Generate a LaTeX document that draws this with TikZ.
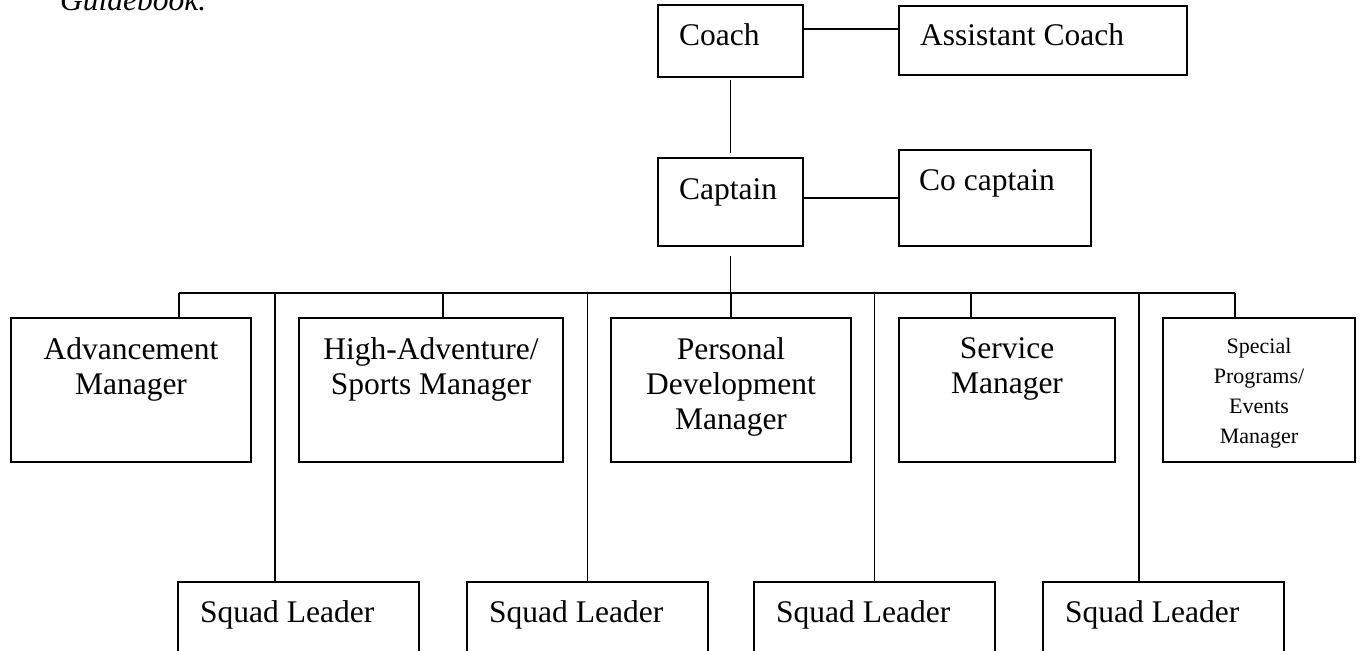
\documentclass[tikz,border=0pt]{standalone}
\usepackage{fontspec}
\setmainfont{Liberation Serif}
\usepackage{tikz}

\tikzset{
  box/.style={draw, line width=1.8pt, anchor=north west, inner sep=0pt, outer sep=0pt},
  lbl/.style={inner sep=0pt, anchor=base west},
  mgr/.style={inner sep=0pt, anchor=north, align=center},
  link/.style={line width=1.4pt},
}

\begin{document}
\begin{tikzpicture}[x=1pt,y=-1pt,every node/.style={font=\fontsize{31.5}{35}\selectfont}]
\clip (0,0) rectangle (1361,651);
\node[lbl, font=\fontsize{31.5}{35}\selectfont\itshape] (guide) at (60,10) {Guidebook.};
% top boxes
\node[box, minimum width=145, minimum height=72] (coach) at (658,5) {};
\node[box, minimum width=288, minimum height=69] (asst) at (899,6) {};
\node[box, minimum width=145, minimum height=88] (capt) at (658,158) {};
\node[box, minimum width=192, minimum height=96] (cocap) at (899,150) {};
\node[lbl] (coachT) at ([xshift=21pt,yshift=-40pt]coach.north west) {Coach};
\node[lbl] (asstT) at ([xshift=21pt,yshift=-39pt]asst.north west) {Assistant Coach};
\node[lbl] (captT) at ([xshift=21pt,yshift=-41pt]capt.north west) {Captain};
\node[lbl] (cocapT) at ([xshift=20pt,yshift=-40pt]cocap.north west) {Co captain};
% managers
\node[box, minimum width=240, minimum height=144] (adv) at (11,318) {};
\node[box, minimum width=264, minimum height=144] (high) at (299,318) {};
\node[box, minimum width=240, minimum height=144] (pers) at (611,318) {};
\node[box, minimum width=216, minimum height=144] (serv) at (899,318) {};
\node[box, minimum width=192, minimum height=144] (spec) at (1163,318) {};
\node[mgr] (advT) at ([yshift=-19pt]adv.north) {Advancement\\Manager};
\node[mgr] (highT) at ([yshift=-19pt]high.north) {High-Adventure/\\Sports Manager};
\node[mgr] (persT) at ([yshift=-19pt]pers.north) {Personal\\Development\\Manager};
\node[mgr] (servT) at ([yshift=-19pt]serv.north) {Service\\Manager};
\node[mgr, font=\fontsize{22}{30}\selectfont] (specT) at ([yshift=-20pt]spec.north) {Special\\Programs/\\Events\\Manager};
% squad leaders
\node[box, minimum width=241, minimum height=100] (sq1) at (178,582) {};
\node[box, minimum width=241, minimum height=100] (sq2) at (467,582) {};
\node[box, minimum width=241, minimum height=100] (sq3) at (754,582) {};
\node[box, minimum width=241, minimum height=100] (sq4) at (1043,582) {};
\node[lbl] (sq1T) at ([xshift=22pt,yshift=-40pt]sq1.north west) {Squad Leader};
\node[lbl] (sq2T) at ([xshift=22pt,yshift=-40pt]sq2.north west) {Squad Leader};
\node[lbl] (sq3T) at ([xshift=22pt,yshift=-40pt]sq3.north west) {Squad Leader};
\node[lbl] (sq4T) at ([xshift=22pt,yshift=-40pt]sq4.north west) {Squad Leader};
% connectors
\draw[link] ([yshift=12pt]coach.east) -- ([yshift=12pt]coach.east -| asst.west);
\draw[link, shorten <=3pt, shorten >=5pt] (coach.south) -- (capt.north);
\draw[link] ([yshift=4pt]capt.east) -- ([yshift=4pt]capt.east -| cocap.west);
\coordinate (bus) at ([yshift=-47pt]capt.south);
\draw[link, shorten <=10pt] (capt.south) -- (bus);
\coordinate (d1) at ([xshift=48pt]adv.north);
\coordinate (d2) at ([xshift=12pt]high.north);
\coordinate (d3) at (pers.north);
\coordinate (d4) at ([xshift=-36pt]serv.north);
\coordinate (d5) at ([xshift=-24pt]spec.north);
\coordinate (s1) at ([xshift=-23.5pt]sq1.north);
\coordinate (s2) at (sq2.north);
\coordinate (s3) at (sq3.north);
\coordinate (s4) at ([xshift=-24.5pt]sq4.north);
\draw[link] (d1 |- bus) -- (d5 |- bus);
\draw[link] (d1 |- bus) -- (d1);
\draw[link] (d2 |- bus) -- (d2);
\draw[link] (d3 |- bus) -- (d3);
\draw[link] (d4 |- bus) -- (d4);
\draw[link] (d5 |- bus) -- (d5);
\draw[link] (s1 |- bus) -- (s1);
\draw[link] (s2 |- bus) -- (s2);
\draw[link] (s3 |- bus) -- (s3);
\draw[link] (s4 |- bus) -- (s4);
\end{tikzpicture}
\end{document}
